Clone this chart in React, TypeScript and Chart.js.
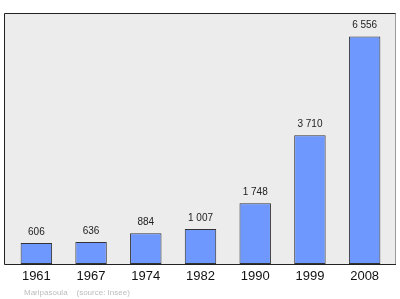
import React, { useEffect, useRef } from "react";
import { Chart, registerables } from "chart.js";

Chart.register(...registerables);

const years = ["1961", "1967", "1974", "1982", "1990", "1999", "2008"];
const population = [606, 636, 884, 1007, 1748, 3710, 6556];
const sourceText = "Maripasoula    (source: Insee)";

const fmt = (v: number) => String(v).replace(/\B(?=(\d{3})+(?!\d))/g, " ");

const framePlugin = {
  id: "frame",
  beforeDraw(chart: any) {
    const { ctx, chartArea } = chart;
    const l = chartArea.left - 5;
    const r = chartArea.right + 3;
    const t = chartArea.top;
    const b = chartArea.bottom;
    ctx.save();
    ctx.fillStyle = "#ececec";
    ctx.fillRect(l, t, r - l, b - t);
    ctx.lineWidth = 1;
    ctx.strokeStyle = "#9a9a9a";
    ctx.beginPath();
    ctx.moveTo(r + 0.5, t);
    ctx.lineTo(r + 0.5, b);
    ctx.stroke();
    ctx.strokeStyle = "#222";
    ctx.beginPath();
    ctx.moveTo(r + 0.5, t + 0.5);
    ctx.lineTo(l + 0.5, t + 0.5);
    ctx.lineTo(l + 0.5, b + 0.5);
    ctx.lineTo(r + 1, b + 0.5);
    ctx.stroke();
    ctx.restore();
  },
  afterDatasetsDraw(chart: any) {
    const { ctx } = chart;
    const meta = chart.getDatasetMeta(0);
    ctx.save();
    ctx.font = "10px 'Liberation Sans', Arial, sans-serif";
    ctx.fillStyle = "#222";
    ctx.textAlign = "center";
    ctx.textBaseline = "alphabetic";
    meta.data.forEach((bar: any, i: number) => {
      ctx.fillText(fmt(population[i]), bar.x, bar.y - 8);
    });
    ctx.font = "8px 'Liberation Sans', Arial, sans-serif";
    ctx.fillStyle = "#bdbdbd";
    ctx.textAlign = "left";
    ctx.fillText(sourceText, 24, 295);
    ctx.restore();
  },
};

export default function App() {
  const ref = useRef<HTMLCanvasElement>(null);
  useEffect(() => {
    document.body.style.margin = "0";
    const chart = new Chart(ref.current!, {
      type: "bar",
      data: {
        labels: years,
        datasets: [
          {
            data: population,
            backgroundColor: "#6f98ff",
            borderColor: "#333",
            borderWidth: 1,
            borderSkipped: false,
            categoryPercentage: 1,
            barPercentage: 0.575,
          },
        ],
      },
      options: {
        responsive: false,
        animation: false,
        layout: { padding: { left: 9, right: 8, top: 13, bottom: 0 } },
        plugins: { legend: { display: false }, tooltip: { enabled: false } },
        scales: {
          x: {
            grid: { display: false, drawTicks: false },
            border: { display: false },
            ticks: {
              color: "#111",
              padding: 5,
              font: { size: 13, family: "'Liberation Sans', Arial, sans-serif" },
            },
            afterFit(scale: any) {
              scale.height = 35;
            },
          },
          y: { display: false, min: 0, max: 7233 },
        },
      },
      plugins: [framePlugin],
    });
    return () => chart.destroy();
  }, []);
  return (
    <div style={{ width: 400, height: 299 }}>
      <canvas ref={ref} width={400} height={299} />
    </div>
  );
}
